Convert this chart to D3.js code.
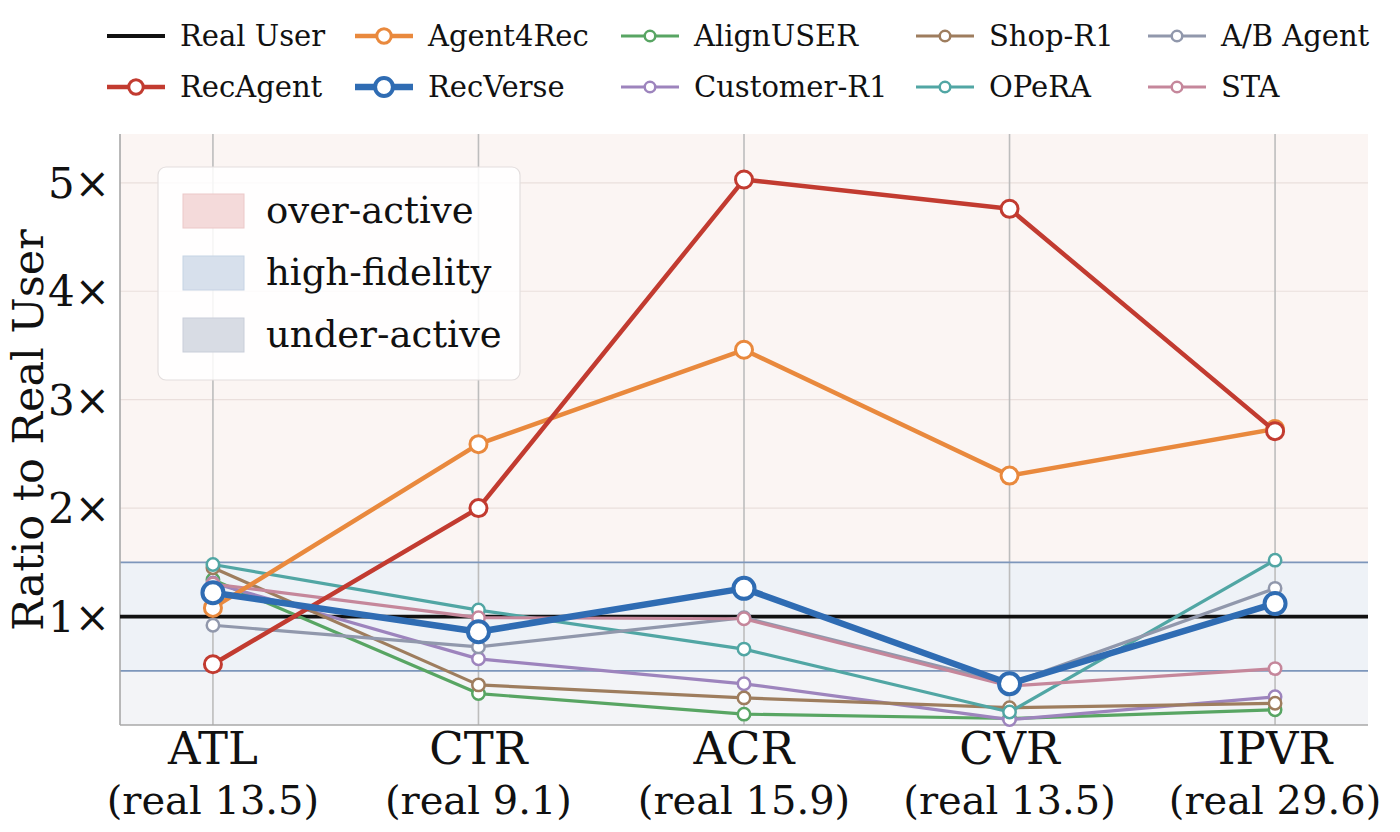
<!DOCTYPE html>
<html><head><meta charset="utf-8">
<script src="https://cdn.jsdelivr.net/npm/d3@7"></script>
<style>
html,body{margin:0;padding:0;background:#fff;}
svg{display:block;}
svg text{font-family:"DejaVu Serif","Liberation Serif",serif;}
</style></head>
<body>
<svg id="chart" width="1400" height="832"></svg>
<script>
// ---- data ----
const categories = ["ATL","CTR","ACR","CVR","IPVR"];
const realValues = ["13.5","9.1","15.9","13.5","29.6"];
const yTicks = [1,2,3,4,5];
const recAgent   = [0.56, 2.00, 5.03, 4.76, 2.71];
const agent4Rec  = [1.08, 2.59, 3.46, 2.30, 2.73];
const recVerse   = [1.22, 0.86, 1.26, 0.38, 1.12];
const alignUser  = [1.34, 0.29, 0.10, 0.06, 0.14];
const customerR1 = [1.31, 0.61, 0.38, 0.05, 0.26];
const shopR1     = [1.45, 0.37, 0.25, 0.16, 0.20];
const opera      = [1.48, 1.06, 0.70, 0.12, 1.52];
const abAgent    = [0.92, 0.72, 0.99, 0.38, 1.26];
const sta        = [1.30, 0.99, 0.98, 0.36, 0.52];
const bandLow = 0.5, bandHigh = 1.5, realLevel = 1;

const seriesNames = ["RecAgent","Agent4Rec","RecVerse","AlignUSER","Customer-R1","Shop-R1","OPeRA","A/B Agent","STA"];
const seriesValues = [recAgent,agent4Rec,recVerse,alignUser,customerR1,shopR1,opera,abAgent,sta];

const style = {
  "RecAgent":   {c:"#c23b30", w:4.5, r:8.5, sw:3},
  "Agent4Rec":  {c:"#e9893d", w:4.5, r:8.5, sw:3},
  "RecVerse":   {c:"#2f6cb3", w:6.5, r:10.5,sw:4},
  "AlignUSER":  {c:"#58a563", w:3.2, r:6.2, sw:2.5},
  "Customer-R1":{c:"#9d84bd", w:3.2, r:6.2, sw:2.5},
  "Shop-R1":    {c:"#9e7d5e", w:3.2, r:6.2, sw:2.5},
  "OPeRA":      {c:"#51a6a4", w:3.2, r:6.2, sw:2.5},
  "A/B Agent":  {c:"#9198ac", w:3.2, r:6.2, sw:2.5},
  "STA":        {c:"#c5879b", w:3.2, r:6.2, sw:2.5}
};

const svg = d3.select("#chart");
const L = 120, R = 1368, T = 134, B = 725;
const x = d3.scaleLinear().domain([-0.35, categories.length - 1 + 0.35]).range([L, R]);
const y = d3.scaleLinear().domain([0, 5.45]).range([B, T]);

svg.append("rect").attr("x",L).attr("y",y(5.45)).attr("width",R-L).attr("height",y(bandHigh)-y(5.45)).attr("fill","#fbf5f3");
svg.append("rect").attr("x",L).attr("y",y(bandHigh)).attr("width",R-L).attr("height",y(bandLow)-y(bandHigh)).attr("fill","#eef2f7");
svg.append("rect").attr("x",L).attr("y",y(bandLow)).attr("width",R-L).attr("height",y(0)-y(bandLow)).attr("fill","#f3f4f7");

svg.append("g").selectAll("line").data(yTicks.filter(t=>t>bandHigh)).join("line")
  .attr("x1",L).attr("x2",R).attr("y1",d=>y(d)).attr("y2",d=>y(d))
  .attr("stroke","#eadfdc").attr("stroke-width",1.2);
svg.append("g").selectAll("line").data(categories).join("line")
  .attr("x1",(d,i)=>x(i)).attr("x2",(d,i)=>x(i)).attr("y1",T).attr("y2",B)
  .attr("stroke","#bdbdbd").attr("stroke-width",1.6);
svg.append("g").selectAll("line").data([bandLow,bandHigh]).join("line")
  .attr("x1",L).attr("x2",R).attr("y1",d=>y(d)).attr("y2",d=>y(d))
  .attr("stroke","#7d96bb").attr("stroke-width",1.8);

svg.append("line").attr("x1",L).attr("x2",L).attr("y1",T).attr("y2",B).attr("stroke","#a8a8a8").attr("stroke-width",1.6);
svg.append("line").attr("x1",L).attr("x2",R).attr("y1",B).attr("y2",B).attr("stroke","#a8a8a8").attr("stroke-width",1.6);

svg.append("line").attr("x1",L).attr("x2",R).attr("y1",y(realLevel)).attr("y2",y(realLevel))
  .attr("stroke","#111").attr("stroke-width",3.8);

const order = [3,4,5,6,7,8,1,0,2];
const line = d3.line().x((d,i)=>x(i)).y(d=>y(d));
order.forEach(k=>{
  const name = seriesNames[k], s = style[name], vals = seriesValues[k];
  const g = svg.append("g");
  g.append("path").attr("d",line(vals)).attr("fill","none").attr("stroke",s.c)
    .attr("stroke-width",s.w).attr("stroke-linejoin","round");
  g.selectAll("circle").data(vals).join("circle")
    .attr("cx",(d,i)=>x(i)).attr("cy",d=>y(d)).attr("r",s.r)
    .attr("fill","#fff").attr("stroke",s.c).attr("stroke-width",s.sw);
});

svg.append("g").selectAll("text").data(yTicks).join("text")
  .attr("x",110).attr("y",d=>y(d)).attr("dy","0.36em").attr("text-anchor","end")
  .attr("font-size",42).attr("fill","#111").text(d=>d+"×");
svg.append("text").attr("transform",`translate(43,430) rotate(-90)`)
  .attr("text-anchor","middle").attr("font-size",43).attr("fill","#111").text("Ratio to Real User");

const xt = svg.append("g").selectAll("g").data(categories).join("g");
xt.append("text").attr("x",(d,i)=>x(i)).attr("y",764).attr("text-anchor","middle")
  .attr("font-size",45).attr("fill","#111").text(d=>d);
xt.append("text").attr("x",(d,i)=>x(i)).attr("y",814).attr("text-anchor","middle")
  .attr("font-size",40).attr("fill","#111").text((d,i)=>`(real ${realValues[i]})`);

const il = svg.append("g");
il.append("rect").attr("x",158).attr("y",167).attr("width",362).attr("height",213).attr("rx",8)
  .attr("fill","#fff").attr("fill-opacity",0.85).attr("stroke","#e3dede").attr("stroke-width",1.2);
const zones = [{t:"over-active",f:"#f4dada",s:"#ecc8c8"},{t:"high-fidelity",f:"#d7e0ec",s:"#c6d3e4"},{t:"under-active",f:"#d8dce4",s:"#c9ced9"}];
zones.forEach((z,i)=>{
  const cy = 211 + i*62;
  il.append("rect").attr("x",183).attr("y",cy-17).attr("width",61).attr("height",34).attr("fill",z.f).attr("stroke",z.s);
  il.append("text").attr("x",266).attr("y",cy).attr("dy","0.33em").attr("font-size",37).attr("fill","#111").text(z.t);
});

const legendItems = [
  {n:"Real User",col:0,row:0},{n:"RecAgent",col:0,row:1},
  {n:"Agent4Rec",col:1,row:0},{n:"RecVerse",col:1,row:1},
  {n:"AlignUSER",col:2,row:0},{n:"Customer-R1",col:2,row:1},
  {n:"Shop-R1",col:3,row:0},{n:"OPeRA",col:3,row:1},
  {n:"A/B Agent",col:4,row:0},{n:"STA",col:4,row:1}
];
const colX = [107, 355, 621, 916, 1148];
const rowY = [36, 87];
const tl = svg.append("g");
legendItems.forEach(it=>{
  const x0 = colX[it.col], yy = rowY[it.row];
  if (it.n === "Real User") {
    tl.append("line").attr("x1",x0).attr("x2",x0+58).attr("y1",yy).attr("y2",yy).attr("stroke","#111").attr("stroke-width",3.8);
  } else {
    const s = style[it.n];
    tl.append("line").attr("x1",x0).attr("x2",x0+58).attr("y1",yy).attr("y2",yy).attr("stroke",s.c).attr("stroke-width",s.w);
    tl.append("circle").attr("cx",x0+29).attr("cy",yy).attr("r",s.r*0.85).attr("fill","#fff").attr("stroke",s.c).attr("stroke-width",s.sw);
  }
  tl.append("text").attr("x",x0+73).attr("y",yy).attr("dy","0.33em").attr("font-size",29).attr("fill","#111").text(it.n);
});
</script>
</body></html>
